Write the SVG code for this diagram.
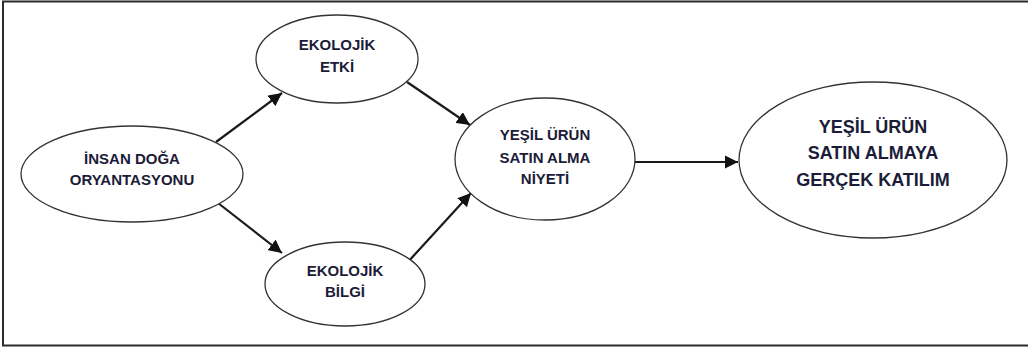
<svg xmlns="http://www.w3.org/2000/svg" width="1028" height="349" viewBox="0 0 1028 349">
  <style>
    .frame { fill: #ffffff; stroke: #2b2b2b; stroke-width: 2; }
    .node { fill: #ffffff; stroke: #333333; stroke-width: 1.3; }
    .lbl { font-family: "Liberation Sans", Arial, sans-serif; font-weight: bold; font-size: 15px; fill: #1c1c38; text-anchor: middle; }
    .big { font-size: 18px; }
    .edge { stroke: #1a1a1a; stroke-width: 2.2; fill: none; marker-end: url(#head); }
  </style>
  <defs>
    <marker id="head" viewBox="0 0 10 10" refX="10" refY="5" markerWidth="6" markerHeight="6" orient="auto" markerUnits="strokeWidth">
      <path d="M0,0 L10,5 L0,10 Z" fill="#111111"/>
    </marker>
  </defs>

  <rect class="frame" x="3" y="1.5" width="1030" height="344"/>

  <g id="connectors">
    <line class="edge" x1="216" y1="142" x2="282" y2="93"/>
    <line class="edge" x1="218" y1="203" x2="282" y2="253"/>
    <line class="edge" x1="407" y1="82" x2="470" y2="125"/>
    <line class="edge" x1="407" y1="263" x2="471" y2="193"/>
    <line class="edge" x1="635" y1="162" x2="738" y2="162"/>
  </g>

  <g id="insan-doga">
    <ellipse class="node" cx="132" cy="174" rx="111" ry="48"/>
    <text class="lbl" x="132" y="164">İNSAN DOĞA</text>
    <text class="lbl" x="132" y="185">ORYANTASYONU</text>
  </g>

  <g id="ekolojik-etki">
    <ellipse class="node" cx="337" cy="59" rx="81" ry="44"/>
    <text class="lbl" x="337" y="50">EKOLOJİK</text>
    <text class="lbl" x="337" y="72">ETKİ</text>
  </g>

  <g id="ekolojik-bilgi">
    <ellipse class="node" cx="345" cy="284" rx="80" ry="42"/>
    <text class="lbl" x="345" y="276">EKOLOJİK</text>
    <text class="lbl" x="345" y="297">BİLGİ</text>
  </g>

  <g id="satin-alma-niyeti">
    <ellipse class="node" cx="545" cy="159" rx="90" ry="61"/>
    <text class="lbl" x="545" y="140">YEŞİL ÜRÜN</text>
    <text class="lbl" x="545" y="163">SATIN ALMA</text>
    <text class="lbl" x="545" y="184">NİYETİ</text>
  </g>

  <g id="gercek-katilim">
    <ellipse class="node" cx="873" cy="160" rx="134" ry="78"/>
    <text class="lbl big" x="873" y="133">YEŞİL ÜRÜN</text>
    <text class="lbl big" x="873" y="159">SATIN ALMAYA</text>
    <text class="lbl big" x="873" y="186">GERÇEK KATILIM</text>
  </g>
</svg>
